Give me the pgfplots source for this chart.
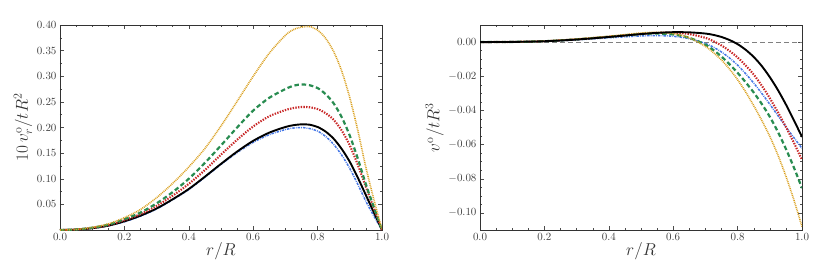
\documentclass[border=0pt]{standalone}
\usepackage{pgfplots}
\usepackage{pgfplotstable}
\pgfplotsset{compat=1.18}
\definecolor{cblack}{RGB}{0,0,0}
\definecolor{cblue}{RGB}{70,120,230}
\definecolor{cred}{RGB}{200,40,40}
\definecolor{cgreen}{RGB}{40,140,80}
\definecolor{corange}{RGB}{218,160,30}

\pgfplotstableread{
r     k      b      rd     g      o
0.00  0      0      0      0      0
0.05  0.0008 0.0008 0.0009 0.0010 0.0012
0.10  0.0035 0.0033 0.0040 0.0045 0.0050
0.15  0.0085 0.0082 0.0095 0.0105 0.0120
0.20  0.0170 0.0160 0.0190 0.0210 0.0240
0.25  0.0280 0.0270 0.0310 0.0340 0.0400
0.30  0.0420 0.0410 0.0470 0.0520 0.0630
0.35  0.0600 0.0590 0.0670 0.0740 0.0910
0.40  0.0800 0.0790 0.0900 0.1000 0.1230
0.45  0.1040 0.1030 0.1170 0.1310 0.1590
0.50  0.1290 0.1280 0.1470 0.1650 0.2030
0.55  0.1530 0.1510 0.1760 0.2000 0.2510
0.60  0.1740 0.1710 0.2020 0.2330 0.3000
0.65  0.1900 0.1860 0.2220 0.2580 0.3450
0.70  0.2010 0.1960 0.2340 0.2750 0.3800
0.725 0.2045 0.1990 0.2380 0.2815 0.3910
0.75  0.2062 0.2000 0.2400 0.2840 0.3960
0.775 0.2055 0.1980 0.2395 0.2825 0.3970
0.80  0.2010 0.1930 0.2360 0.2770 0.3900
0.825 0.1920 0.1825 0.2280 0.2650 0.3740
0.85  0.1780 0.1670 0.2150 0.2470 0.3480
0.875 0.1580 0.1460 0.1940 0.2200 0.3100
0.90  0.1330 0.1200 0.1650 0.1840 0.2580
0.925 0.1020 0.0890 0.1270 0.1390 0.1940
0.95  0.0680 0.0560 0.0840 0.0890 0.1220
0.975 0.0340 0.0270 0.0420 0.0440 0.0590
1.00  0      0      0      0      0
}\tabL

\pgfplotstableread{
r     k        b        rd       g        o
0.00  0        0        0        0        0
0.10  0.0001   0.0001   0.0001   0.0001   0.0001
0.20  0.0005   0.0004   0.0005   0.0005   0.0006
0.30  0.0015   0.0013   0.0016   0.0016   0.0018
0.40  0.0030   0.0025   0.0031   0.0031   0.0034
0.50  0.0047   0.0036   0.0048   0.0047   0.0053
0.55  0.0054   0.0038   0.0054   0.0050   0.0057
0.60  0.0058   0.0034   0.0055   0.0045   0.0050
0.65  0.0057   0.0020   0.0047   0.0025   0.0025
0.70  0.0050  -0.0008   0.0025  -0.0015  -0.0025
0.725 0.0042  -0.0030   0.0005  -0.0047  -0.0062
0.75  0.0030  -0.0058  -0.0020  -0.0085  -0.0105
0.775 0.0012  -0.0093  -0.0052  -0.0130  -0.0158
0.80 -0.0012  -0.0135  -0.0090  -0.0180  -0.0220
0.825 -0.0045 -0.0185  -0.0137  -0.0235  -0.0292
0.85 -0.0087  -0.0240  -0.0190  -0.0295  -0.0372
0.875 -0.0140 -0.0300  -0.0255  -0.0362  -0.0458
0.90 -0.0205  -0.0364  -0.0328  -0.0437  -0.0552
0.925 -0.0280 -0.0430  -0.0410  -0.0525  -0.0660
0.95 -0.0365  -0.0496  -0.0497  -0.0625  -0.0785
0.975 -0.0458 -0.0560  -0.0590  -0.0735  -0.0925
1.00 -0.0555  -0.0622  -0.0690  -0.0855  -0.1080
}\tabR

\pgfplotsset{
  myax/.style={
    scale only axis, width=322pt, height=205pt,
    xmin=0, xmax=1,
    xtick={0,0.2,...,1.0},
    minor x tick num=3,
    tick align=inside,
    major tick length=4pt, minor tick length=2pt,
    tick style={black!70, line width=0.4pt},
    axis line style={black!80, line width=0.8pt},
    ticklabel style={font=\fontsize{11}{13}\selectfont, text=black!75},
    xticklabel style={/pgf/number format/.cd, fixed, fixed zerofill, precision=1},
    xlabel={$r/R$},
    label style={font=\fontsize{18.5}{22}\selectfont, text=black!80},
    xlabel style={yshift=5pt},
  },
  sk/.style={cblack, smooth, no markers, line width=1.9pt},
  sb/.style={cblue, smooth, no markers, line width=1.5pt, dash pattern=on 2.4pt off 1.1pt on 0.8pt off 1.1pt},
  sr/.style={cred, smooth, no markers, line width=2.1pt, dash pattern=on 1.4pt off 1.3pt},
  sg/.style={cgreen, smooth, no markers, line width=2.2pt, dash pattern=on 4.5pt off 2.8pt},
  so/.style={corange, smooth, no markers, line width=1.6pt, dash pattern=on 0.9pt off 0.9pt},
}

\begin{document}
\begin{tikzpicture}
\begin{axis}[myax, at={(0pt,0pt)}, anchor=south west,
  ymin=0, ymax=0.40,
  ytick={0.05,0.10,...,0.41},
  minor y tick num=1,
  yticklabel style={/pgf/number format/.cd, fixed, fixed zerofill, precision=2},
  ylabel={$10\,v_r^{\mathrm{o}}/tR^2$},
  ylabel style={yshift=-2pt},
]
\addplot[sb] table[x=r,y=b] {\tabL};
\addplot[sk] table[x=r,y=k] {\tabL};
\addplot[sr] table[x=r,y=rd] {\tabL};
\addplot[sg] table[x=r,y=g] {\tabL};
\addplot[so] table[x=r,y=o] {\tabL};
\end{axis}
\begin{axis}[myax, at={(420pt,0pt)}, anchor=south west,
  ymin=-0.11, ymax=0.01,
  ytick={-0.10,-0.08,...,0.001},
  minor y tick num=3,
  yticklabel style={/pgf/number format/.cd, fixed, fixed zerofill, precision=2},
  ylabel={$v^{\mathrm{o}}/tR^3$},
  ylabel style={yshift=-2pt},
]
\addplot[black!50, line width=0.5pt, dash pattern=on 5pt off 3pt, no markers] coordinates {(0,0) (1,0)};
\addplot[sb] table[x=r,y=b] {\tabR};
\addplot[sr] table[x=r,y=rd] {\tabR};
\addplot[sg] table[x=r,y=g] {\tabR};
\addplot[so] table[x=r,y=o] {\tabR};
\addplot[sk] table[x=r,y=k] {\tabR};
\end{axis}
\pgfresetboundingbox
\useasboundingbox (-60pt,-39pt) rectangle (771pt,230pt);
\end{tikzpicture}
\end{document}
